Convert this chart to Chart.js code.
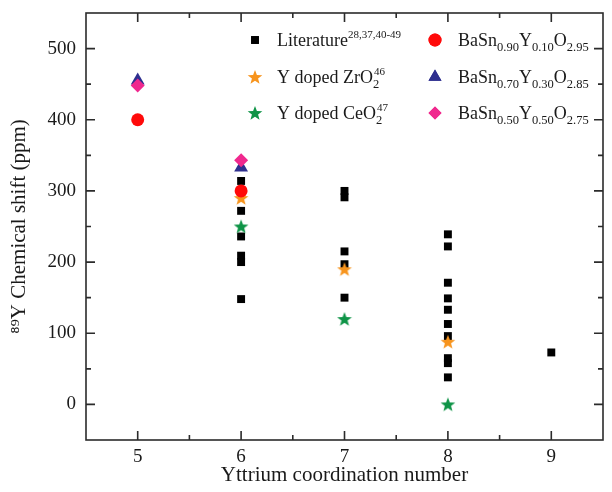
<!DOCTYPE html>
<html>
<head>
<meta charset="utf-8">
<script src="https://cdn.jsdelivr.net/npm/chart.js@4"></script>
<style>
html,body{margin:0;padding:0;background:#fff;}
#wrap{width:612px;height:492px;position:relative;}
</style>
</head>
<body>
<div id="wrap"><canvas id="c" width="612" height="492"></canvas></div>
<script>
// ---- data ----
const xTicks = [5, 6, 7, 8, 9];
const yTicks = [0, 100, 200, 300, 400, 500];
const litX = [6, 6, 6, 6, 6, 6, 7, 7, 7, 7, 7, 8, 8, 8, 8, 8, 8, 8, 8, 8, 8, 9];
const litY = [314, 272, 236, 209, 200, 148, 300, 291, 215, 197, 150, 239, 222, 171, 149, 133, 113, 96, 65, 58, 38, 73];
const zrX = [6, 7, 8];
const zrY = [290, 190, 88];
const ceX = [6, 7, 8];
const ceY = [250, 120, 0];
const y10X = [5, 6];
const y10Y = [400, 300];
const y30X = [5, 6];
const y30Y = [455, 333];
const y50X = [5, 6];
const y50Y = [448, 343];

const C_LIT = '#000000', C_ZR = '#f7941d', C_CE = '#0f9447', C_RED = '#ff0a0a', C_BLUE = '#2e2f8f', C_PINK = '#f0288e';
const FONT = '"Liberation Serif", "Times New Roman", serif';

function pts(xs, ys) { return xs.map((x, i) => ({x: x, y: ys[i]})); }

function starImg(color, size) {
  const c = document.createElement('canvas');
  c.width = size; c.height = size;
  const g = c.getContext('2d');
  const cx = size / 2, cy = size / 2 + 0.6, R = size / 2 - 0.3, r = R * 0.42;
  g.beginPath();
  for (let i = 0; i < 10; i++) {
    const a = -Math.PI / 2 + i * Math.PI / 5;
    const rad = i % 2 === 0 ? R : r;
    g.lineTo(cx + rad * Math.cos(a), cy + rad * Math.sin(a));
  }
  g.closePath();
  g.fillStyle = color;
  g.fill();
  return c;
}
const starZr = starImg(C_ZR, 16);
const starCe = starImg(C_CE, 16);

// legend entries (rich text parts)
const legendItems = [
  {col: 0, row: 0, style: 'rect', color: C_LIT, r: 5.5, parts: [{t: 'Literature'}, {t: '28,37,40-49', sup: true}]},
  {col: 0, row: 1, style: starZr, color: C_ZR, r: 7, parts: [{t: 'Y doped ZrO'}, {t: '2', sub: true, sup2: '46'}]},
  {col: 0, row: 2, style: starCe, color: C_CE, r: 7, parts: [{t: 'Y doped CeO'}, {t: '2', sub: true, sup2: '47'}]},
  {col: 1, row: 0, style: 'circle', color: C_RED, r: 6.5, parts: [{t: 'BaSn'}, {t: '0.90', sub: true}, {t: 'Y'}, {t: '0.10', sub: true}, {t: 'O'}, {t: '2.95', sub: true}]},
  {col: 1, row: 1, style: 'triangle', color: C_BLUE, r: 7.5, parts: [{t: 'BaSn'}, {t: '0.70', sub: true}, {t: 'Y'}, {t: '0.30', sub: true}, {t: 'O'}, {t: '2.85', sub: true}]},
  {col: 1, row: 2, style: 'rectRot', color: C_PINK, r: 6.5, parts: [{t: 'BaSn'}, {t: '0.50', sub: true}, {t: 'Y'}, {t: '0.50', sub: true}, {t: 'O'}, {t: '2.75', sub: true}]}
];

const legendPlugin = {
  id: 'richLegend',
  afterDraw(chart) {
    const ctx = chart.ctx;
    const colMarkX = [255, 435], colTextX = [277, 458], rowY = [40, 77, 113];
    ctx.save();
    legendItems.forEach(it => {
      const mx = colMarkX[it.col], my = rowY[it.row];
      if (typeof it.style === 'string') {
        ctx.fillStyle = it.color;
        ctx.beginPath();
        Chart.helpers.drawPoint(ctx, {pointStyle: it.style, radius: it.r, rotation: 0, borderWidth: 0}, mx, my);
        ctx.fill();
      } else {
        Chart.helpers.drawPoint(ctx, {pointStyle: it.style, radius: it.r, rotation: 0, borderWidth: 0}, mx, my);
      }
      let x = colTextX[it.col];
      const base = my + 6;
      ctx.fillStyle = '#1a1a1a';
      ctx.textBaseline = 'alphabetic';
      ctx.textAlign = 'left';
      it.parts.forEach(p => {
        if (p.sup) {
          ctx.font = '11px ' + FONT;
          ctx.fillText(p.t, x, base - 8);
          x += ctx.measureText(p.t).width;
        } else if (p.sub) {
          ctx.font = '12.5px ' + FONT;
          ctx.fillText(p.t, x, base + 5);
          let w = ctx.measureText(p.t).width;
          if (p.sup2) {
            ctx.font = '11px ' + FONT;
            ctx.fillText(p.sup2, x + 1, base - 8);
            w = Math.max(w, ctx.measureText(p.sup2).width + 1);
          }
          x += w;
        } else {
          ctx.font = '18px ' + FONT;
          ctx.fillText(p.t, x, base);
          x += ctx.measureText(p.t).width;
        }
      });
    });
    ctx.restore();
  }
};

const framePlugin = {
  id: 'frameTicks',
  afterDatasetsDraw(chart) {
    const ctx = chart.ctx, a = chart.chartArea;
    const xs = chart.scales.x, ys = chart.scales.y;
    ctx.save();
    ctx.strokeStyle = '#2b2b2b';
    ctx.lineWidth = 1.6;
    ctx.strokeRect(a.left, a.top, a.right - a.left, a.bottom - a.top);
    ctx.beginPath();
    const major = 9, minor = 5;
    for (let v = 5; v <= 9.001; v += 0.5) {
      const px = xs.getPixelForValue(v);
      const L = Math.abs(v - Math.round(v)) < 1e-6 ? major : minor;
      ctx.moveTo(px, a.bottom); ctx.lineTo(px, a.bottom - L);
      ctx.moveTo(px, a.top); ctx.lineTo(px, a.top + L);
    }
    for (let v = 0; v <= 500.001; v += 50) {
      const py = ys.getPixelForValue(v);
      const L = (v % 100 === 0) ? major : minor;
      ctx.moveTo(a.left, py); ctx.lineTo(a.left + L, py);
      ctx.moveTo(a.right, py); ctx.lineTo(a.right - L, py);
    }
    ctx.stroke();
    ctx.restore();
  }
};

const ds = (label, xs, ys, style, color, r, order) => ({
  label: label, data: pts(xs, ys), pointStyle: style, pointRadius: r, pointHoverRadius: r,
  backgroundColor: color, borderColor: color, borderWidth: 0, order: order, showLine: false
});

new Chart(document.getElementById('c'), {
  type: 'scatter',
  data: {
    datasets: [
      ds('Literature', litX, litY, 'rect', C_LIT, 5.6, 5),
      ds('Y doped ZrO2', zrX, zrY, starZr, C_ZR, 8, 4),
      ds('Y doped CeO2', ceX, ceY, starCe, C_CE, 8, 3),
      ds('BaSn0.90Y0.10O2.95', y10X, y10Y, 'circle', C_RED, 6.5, 2),
      ds('BaSn0.70Y0.30O2.85', y30X, y30Y, 'triangle', C_BLUE, 8, 1),
      ds('BaSn0.50Y0.50O2.75', y50X, y50Y, 'rectRot', C_PINK, 7, 0)
    ]
  },
  options: {
    responsive: false,
    animation: false,
    devicePixelRatio: 1,
    layout: {padding: {top: 13, right: 9, bottom: 0, left: 0}},
    plugins: {legend: {display: false}, tooltip: {enabled: false}},
    scales: {
      x: {
        type: 'linear', min: 4.5, max: 9.5,
        afterBuildTicks(s) { s.ticks = xTicks.map(v => ({value: v})); },
        afterFit(s) { s.height = 52; s.paddingLeft = 0; s.paddingRight = 0; },
        grid: {display: false, drawTicks: false},
        border: {display: false},
        ticks: {font: {family: FONT, size: 19}, color: '#1a1a1a', padding: 6, maxRotation: 0},
        title: {display: true, text: 'Yttrium coordination number', font: {family: FONT, size: 21}, color: '#1a1a1a', padding: {top: 0, bottom: 4}}
      },
      y: {
        type: 'linear', min: -50, max: 550,
        afterBuildTicks(s) { s.ticks = yTicks.map(v => ({value: v})); },
        afterFit(s) { s.width = 86; s.paddingTop = 0; s.paddingBottom = 0; },
        grid: {display: false, drawTicks: false},
        border: {display: false},
        ticks: {font: {family: FONT, size: 19}, color: '#1a1a1a', padding: 10},
        title: {display: true, text: '⁸⁹Y Chemical shift (ppm)', font: {family: FONT, size: 21}, color: '#1a1a1a', padding: {top: 7, bottom: 0}}
      }
    }
  },
  plugins: [framePlugin, legendPlugin]
});
</script>
</body>
</html>
